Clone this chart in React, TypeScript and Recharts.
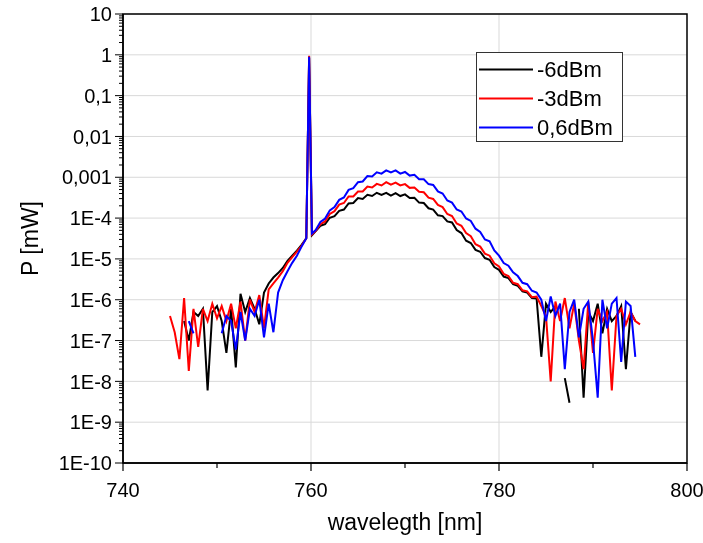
import { LineChart, Line, XAxis, YAxis, CartesianGrid, ReferenceArea } from 'recharts'

// wavelength [nm], sampled every 0.5 nm plus the laser line at 759.8
const wavelength = [
  745, 745.5, 746, 746.5, 747, 747.5, 748, 748.5, 749, 749.5,
  750, 750.5, 751, 751.5, 752, 752.5, 753, 753.5, 754, 754.5,
  755, 755.5, 756, 756.5, 757, 757.5, 758, 758.5, 759, 759.5,
  759.8, 760.1,
  760.5, 761, 761.5, 762, 762.5, 763, 763.5, 764, 764.5, 765,
  765.5, 766, 766.5, 767, 767.5, 768, 768.5, 769, 769.5, 770,
  770.5, 771, 771.5, 772, 772.5, 773, 773.5, 774, 774.5, 775,
  775.5, 776, 776.5, 777, 777.5, 778, 778.5, 779, 779.5, 780,
  780.5, 781, 781.5, 782, 782.5, 783, 783.5, 784,
  784.5, 785, 785.5, 786, 786.5, 787, 787.5, 788, 788.5, 789,
  789.5, 790, 790.5, 791, 791.5, 792, 792.5, 793, 793.5, 794,
  794.5, 795,
]

// P [mW] for -6dBm
const pMinus6 = [
  null, null, null, 3e-7, 1e-7, 5e-7, 4e-7, 6e-7, 6e-9, 5e-7,
  7e-7, 3e-7, 5e-8, 6e-7, 2.2e-8, 1.4e-6, 5e-7, 1.1e-6, 6e-7, 2.5e-7,
  1.5e-6, 2.5e-6, 3.5e-6, 4.5e-6, 6e-6, 9e-6, 1.2e-5, 1.6e-5, 2.2e-5, 3.2e-5,
  0.85, 3.8e-5,
  4.8e-5, 6.5e-5, 7.1e-5, 1.02e-4, 1.12e-4, 1.51e-4, 1.62e-4, 2.29e-4, 2.34e-4, 3.09e-4,
  2.95e-4, 3.72e-4, 3.47e-4, 4.17e-4, 3.72e-4, 4.17e-4, 3.55e-4, 4.07e-4, 3.47e-4, 3.8e-4,
  3.09e-4, 3.16e-4, 2.4e-4, 2.34e-4, 1.74e-4, 1.62e-4, 1.17e-4, 1.12e-4, 8.3e-5, 7.8e-5,
  5.1e-5, 4.3e-5, 2.8e-5, 2.45e-5, 1.66e-5, 1.5e-5, 1.05e-5, 9.5e-6, 6.3e-6, 5.4e-6,
  3.7e-6, 3.4e-6, 2.4e-6, 2.2e-6, 1.6e-6, 1.5e-6, 1.1e-6, 1.07e-6,
  4e-8, 8e-7, 5e-7, 7e-7, null, 1.2e-8, 3e-9, null, 6e-7, 4e-9,
  5e-7, 3e-7, 8e-7, 1.5e-7, 6e-7, 3e-7, 4e-7, 7e-7, 2e-8, 5e-7,
  3e-7, null,
]

// P [mW] for -3dBm
const pMinus3 = [
  4e-7, 1.6e-7, 3.5e-8, 1.1e-6, 1.8e-8, 6e-7, 7e-8, 6e-7, 3e-7, 8e-7,
  3.5e-7, 7e-7, 3e-7, 8e-7, 2e-7, 9e-7, 1e-7, 1e-6, 5e-7, 1.3e-6,
  2e-7, 1.8e-6, 2.5e-6, 3.5e-6, 5e-6, 8e-6, 1.1e-5, 1.5e-5, 2.1e-5, 3.2e-5,
  0.95, 4e-5,
  4.9e-5, 7.1e-5, 8.3e-5, 1.26e-4, 1.48e-4, 2.14e-4, 2.34e-4, 3.39e-4, 3.39e-4, 4.47e-4,
  4.47e-4, 5.9e-4, 5.6e-4, 6.9e-4, 6.3e-4, 7.6e-4, 6.6e-4, 7.4e-4, 6.3e-4, 6.8e-4,
  5.5e-4, 5.6e-4, 4.4e-4, 4.3e-4, 3.16e-4, 2.95e-4, 2.1e-4, 1.86e-4, 1.26e-4, 1.12e-4,
  7.4e-5, 6.5e-5, 4.3e-5, 3.6e-5, 2.3e-5, 2e-5, 1.35e-5, 1.2e-5, 7.8e-6, 6.5e-6,
  4.3e-6, 3.8e-6, 2.6e-6, 2.4e-6, 1.7e-6, 1.6e-6, 1.15e-6, 1.2e-6,
  7e-7, 4e-7, 1e-8, 9e-7, 3e-7, 1.1e-6, 2e-7, 8e-7, 1e-7, 2e-8,
  9e-7, 5e-8, 6e-7, 3e-7, 5e-7, 6e-9, 4e-7, 6e-7, 2.5e-7, 5e-7,
  3e-7, 2.5e-7,
]

// P [mW] for 0,6dBm
const p06 = [
  null, null, null, null, 3e-7, 1.5e-7, null, null, null, null,
  null, 1.5e-7, 4e-7, 3e-7, 6e-8, 5e-7, 1e-7, 6e-7, 4e-7, 1e-6,
  1.2e-7, 8e-7, 1.6e-7, 1.5e-6, 3e-6, 5e-6, 8e-6, 1.2e-5, 2e-5, 3.2e-5,
  0.9, 4.2e-5,
  5.1e-5, 8.1e-5, 9.8e-5, 1.55e-4, 1.86e-4, 2.8e-4, 3.2e-4, 4.9e-4, 5.4e-4, 7.6e-4,
  7.9e-4, 1.07e-3, 1.05e-3, 1.32e-3, 1.23e-3, 1.48e-3, 1.32e-3, 1.48e-3, 1.23e-3, 1.35e-3,
  1.1e-3, 1.15e-3, 8.9e-4, 8.9e-4, 6.8e-4, 6.5e-4, 4.5e-4, 4e-4, 2.7e-4, 2.4e-4,
  1.62e-4, 1.45e-4, 9.8e-5, 8.5e-5, 5.5e-5, 4.6e-5, 3e-5, 2.7e-5, 1.62e-5, 1.2e-5,
  7.9e-6, 6.8e-6, 4.7e-6, 3.8e-6, 2.6e-6, 2.4e-6, 1.66e-6, 1.5e-6,
  1e-6, 3e-7, 1.2e-6, 4e-7, 8e-7, 2e-8, 5e-7, 1e-6, 1.2e-7, 6e-7,
  9e-7, 1e-7, 4e-9, 1e-6, 2e-7, 8e-7, 1.1e-6, 3e-8, 9e-7, 7e-7,
  4e-8, null,
]

const yTicks = [1e-10, 1e-9, 1e-8, 1e-7, 1e-6, 1e-5, 1e-4, 0.001, 0.01, 0.1, 1, 10]
const yTickLabels = ['1E-10', '1E-9', '1E-8', '1E-7', '1E-6', '1E-5', '1E-4', '0,001', '0,01', '0,1', '1', '10']
const xTicks = [740, 760, 780, 800]
const xMinorTicks = [750, 770, 790]
const xGrid = [760, 780]

const seriesKeys = ['a', 'b', 'c']
const seriesNames = ['-6dBm', '-3dBm', '0,6dBm']
const seriesColors = ['#000000', '#ff0000', '#0000ff']

const data = wavelength.map((w, i) => ({ w, a: pMinus6[i], b: pMinus3[i], c: p06[i] }))

// log minor ticks 2..9 inside every decade
const yMinor = yTicks.slice(0, -1).flatMap(d => [2, 3, 4, 5, 6, 7, 8, 9].map(m => m * d))
const yAllTicks = [...yTicks, ...yMinor].sort((p, q) => p - q)
const xAllTicks = [...xTicks, ...xMinorTicks].sort((p, q) => p - q)

const FONT = '"Liberation Sans", Arial, sans-serif'

function YTick(props: any) {
  const { x, y, payload } = props
  const axisX = x + 11
  const idx = yTicks.indexOf(payload.value)
  const major = idx >= 0
  return (
    <g>
      <line x1={axisX - (major ? 8 : 4)} x2={axisX} y1={y} y2={y} stroke="#000" strokeWidth={1} />
      {major && (
        <text x={x} y={y} dy="0.36em" textAnchor="end" fontSize={20} fontFamily={FONT} fill="#000">
          {yTickLabels[idx]}
        </text>
      )}
    </g>
  )
}

function XTick(props: any) {
  const { x, y, payload } = props
  const axisY = y - 11
  const major = xTicks.includes(payload.value)
  return (
    <g>
      <line x1={x} x2={x} y1={axisY} y2={axisY + (major ? 8 : 5)} stroke="#000" strokeWidth={1.2} />
      {major && (
        <text x={x} y={axisY + 34} textAnchor="middle" fontSize={20} fontFamily={FONT} fill="#000">
          {payload.value}
        </text>
      )}
    </g>
  )
}

function YTitle(props: any) {
  const vb = props.viewBox
  const cx = vb.x + 30
  const cy = vb.y + vb.height / 2
  return (
    <text x={cx} y={cy} dy="0.36em" textAnchor="middle" transform={`rotate(-90 ${cx} ${cy})`}
      fontSize={23} fontFamily={FONT} fill="#000">
      P [mW]
    </text>
  )
}

function XTitle(props: any) {
  const vb = props.viewBox
  return (
    <text x={vb.x + vb.width / 2} y={vb.y + 67} textAnchor="middle" fontSize={23} fontFamily={FONT} fill="#000">
      wavelegth [nm]
    </text>
  )
}

function LegendBox() {
  return (
    <div style={{
      position: 'absolute', left: 476, top: 52, width: 145, height: 88,
      border: '1px solid #333', background: '#fff', fontFamily: FONT,
    }}>
      {seriesNames.map((name, i) => (
        <div key={name} style={{ position: 'absolute', left: 0, top: 2 + i * 29, height: 29, width: 145 }}>
          <svg width={56} height={29} style={{ position: 'absolute', left: 1, top: 0 }}>
            <line x1={1} x2={55} y1={14.5} y2={14.5} stroke={seriesColors[i]} strokeWidth={2} />
          </svg>
          <span style={{ position: 'absolute', left: 60, top: 0, lineHeight: '29px', fontSize: 22, color: '#000' }}>
            {name}
          </span>
        </div>
      ))}
    </div>
  )
}

export default function App() {
  return (
    <div style={{ position: 'fixed', left: 0, top: 0, width: 703, height: 543 }}>
      <LineChart width={703} height={543} data={data} margin={{ top: 14, right: 16, left: 0, bottom: 0 }}>
        <CartesianGrid horizontalValues={yTicks} verticalValues={xGrid} stroke="#d9d9d9" strokeWidth={1} />
        <XAxis
          dataKey="w"
          type="number"
          domain={[740, 800]}
          ticks={xAllTicks}
          interval={0}
          allowDataOverflow
          height={80}
          tickSize={8}
          tickMargin={3}
          tickLine={false}
          tick={<XTick />}
          axisLine={{ stroke: '#000', strokeWidth: 1.5 }}
          label={XTitle}
        />
        <YAxis
          type="number"
          scale="log"
          domain={[1e-10, 10]}
          ticks={yAllTicks}
          interval={0}
          allowDataOverflow
          width={123}
          tickSize={8}
          tickMargin={3}
          tickLine={false}
          tick={<YTick />}
          axisLine={{ stroke: '#000', strokeWidth: 1.5 }}
          label={YTitle}
        />
        {seriesKeys.map((k, i) => (
          <Line
            key={k}
            dataKey={k}
            name={seriesNames[i]}
            type="linear"
            stroke={seriesColors[i]}
            strokeWidth={2}
            dot={false}
            connectNulls={false}
            isAnimationActive={false}
          />
        ))}
        <ReferenceArea x1={740} x2={800} y1={1e-10} y2={10} fill="none" stroke="#000" strokeWidth={1.5} ifOverflow="visible" />
      </LineChart>
      <LegendBox />
    </div>
  )
}
